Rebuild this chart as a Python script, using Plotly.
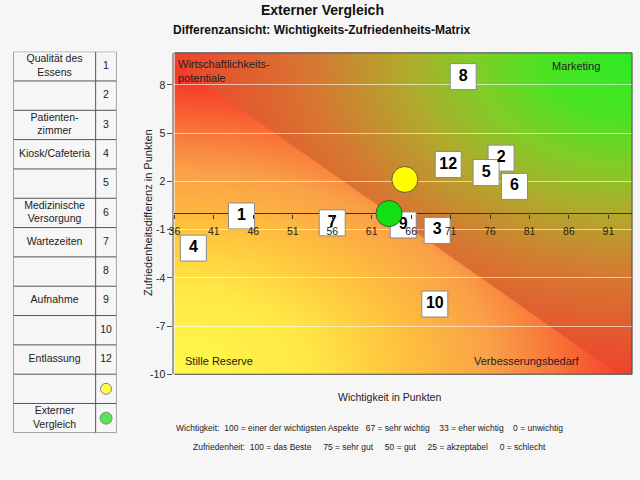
import base64
import struct
import zlib

import numpy as np
import plotly.graph_objects as go

# ---------------- data ----------------
item_ids = ["1", "2", "3", "4", "5", "6", "7", "8", "9", "10", "12"]
wichtigkeit = [44.5, 77.4, 69.3, 38.4, 75.5, 79.1, 56.0, 72.6, 65.0, 69.0, 70.7]
zufriedenheit_diff = [-0.15, 3.45, -1.05, -2.15, 2.55, 1.69, -0.58, 8.52, -0.71, -5.63, 3.05]

eigen_wichtigkeit = [65.2]
eigen_diff = [2.12]
extern_wichtigkeit = [63.2]
extern_diff = [0.0]

table_labels = ["Qualität des<br>Essens", "", "Patienten-<br>zimmer", "Kiosk/Cafeteria", "",
                "Medizinische<br>Versorgung", "Wartezeiten", "", "Aufnahme", "", "Entlassung",
                "", "Externer<br>Vergleich"]
table_numbers = ["1", "2", "3", "4", "5", "6", "7", "8", "9", "10", "12", "", ""]

x_range = [36, 94]
y_range = [-10, 10]
x_ticks = [36, 41, 46, 51, 56, 61, 66, 71, 76, 81, 86, 91]
y_ticks = [-10, -7, -4, -1, 2, 5, 8]
y_tick_text = ["-10", "-7", "-4", "-1", "2", "5", "8"]

FONT = "Liberation Sans, Arial, sans-serif"
FIG_W, FIG_H = 640, 480


def fx(p):
    return p / FIG_W


def fy(p):
    return 1 - p / FIG_H


PL, PR, PT, PB = 170, 632, 53.5, 379

# ---------------- background gradient image ----------------
W, H = int(PR - PL), int(PB - PT)
u = (np.arange(W) + 0.5) / W
v = 1 - (np.arange(H) + 0.5) / H
U, V = np.meshgrid(u, v)


def ramp(t, stops):
    ts = [s[0] for s in stops]
    out = np.zeros(t.shape + (3,))
    for c in range(3):
        out[..., c] = np.interp(t, ts, [s[1][c] for s in stops])
    return out


lower_stops = [(0, (255, 250, 75)), (0.3, (255, 232, 70)), (0.5, (255, 195, 62)),
               (0.7, (250, 160, 72)), (0.85, (248, 112, 55)), (1.0, (245, 60, 42)),
               (1.6, (240, 50, 40))]
upper_stops = [(0, (45, 235, 35)), (0.2, (75, 228, 35)), (0.35, (130, 205, 40)),
               (0.5, (178, 170, 45)), (0.7, (215, 120, 50)), (1.0, (238, 68, 45)),
               (1.6, (238, 60, 45))]
t_low = np.sqrt(U ** 2 + (1.1 * V) ** 2)
s_up = np.sqrt((1 - U) ** 2 + (1 - V) ** 2)
lower = ramp(t_low, lower_stops)
upper = ramp(s_up, upper_stops)
alpha = np.clip((U + V - 0.97) * H * 0.7 + 0.5, 0, 1)[..., None]
img = (upper * alpha + lower * (1 - alpha)).clip(0, 255).astype(np.uint8)


def png_uri(arr):
    h, w, _ = arr.shape
    raw = b"".join(b"\x00" + arr[r].tobytes() for r in range(h))

    def chunk(tag, data):
        c = struct.pack(">I", len(data)) + tag + data
        return c + struct.pack(">I", zlib.crc32(tag + data) & 0xFFFFFFFF)

    png = b"\x89PNG\r\n\x1a\n"
    png += chunk(b"IHDR", struct.pack(">IIBBBBB", w, h, 8, 2, 0, 0, 0))
    png += chunk(b"IDAT", zlib.compress(raw, 9))
    png += chunk(b"IEND", b"")
    return "data:image/png;base64," + base64.b64encode(png).decode()


bg_uri = png_uri(img)

# ---------------- figure ----------------
fig = go.Figure()

fig.add_trace(go.Scatter(
    x=wichtigkeit, y=zufriedenheit_diff, mode="markers+text", text=item_ids,
    textposition="middle center",
    textfont=dict(family=FONT, size=16, color="#000000", weight="bold"),
    marker=dict(symbol="square", size=26, color="white", line=dict(color="#8a8a8a", width=1)),
    hoverinfo="skip", cliponaxis=False,
))
fig.add_trace(go.Scatter(
    x=eigen_wichtigkeit, y=eigen_diff, mode="markers",
    marker=dict(symbol="circle", size=26, color="#ffff00", line=dict(color="#5a5a5a", width=1)),
    hoverinfo="skip",
))
fig.add_trace(go.Scatter(
    x=extern_wichtigkeit, y=extern_diff, mode="markers",
    marker=dict(symbol="circle", size=26, color="#12e012", line=dict(color="#3a5a3a", width=1)),
    hoverinfo="skip",
))

# table (own hidden axes)
n_rows = len(table_labels)
col_split = (90.5 - 7.5) / 104
fig.add_trace(go.Scatter(
    x=[col_split / 2] * n_rows, y=[i + 0.5 for i in range(n_rows)], mode="text",
    text=table_labels, textfont=dict(family=FONT, size=10.5, color="#222222"),
    xaxis="x3", yaxis="y3", hoverinfo="skip",
))
fig.add_trace(go.Scatter(
    x=[(1 + col_split) / 2] * n_rows, y=[i + 0.5 for i in range(n_rows)], mode="text",
    text=table_numbers, textfont=dict(family=FONT, size=10.5, color="#222222"),
    xaxis="x3", yaxis="y3", hoverinfo="skip",
))
fig.add_trace(go.Scatter(
    x=[(1 + col_split) / 2] * 2, y=[n_rows - 1.5, n_rows - 0.5], mode="markers",
    marker=dict(size=[11, 12], color=["#ffff00", "#12e012"], line=dict(color="#555555", width=1)),
    xaxis="x3", yaxis="y3", hoverinfo="skip",
))

shapes = []
for i in range(n_rows + 1):
    shapes.append(dict(type="line", xref="x3", yref="y3", x0=0, x1=1, y0=i, y1=i,
                       line=dict(color="#555555", width=1)))
for xv in [0, col_split, 1]:
    shapes.append(dict(type="line", xref="x3", yref="y3", x0=xv, x1=xv, y0=0, y1=n_rows,
                       line=dict(color="#555555", width=1)))
# plot border (top, right, bottom)
shapes += [
    dict(type="line", xref="x domain", yref="y domain", x0=0, x1=1, y0=1, y1=1,
         line=dict(color="#444444", width=1), layer="above"),
    dict(type="line", xref="x domain", yref="y domain", x0=1, x1=1, y0=0, y1=1,
         line=dict(color="#444444", width=1), layer="above"),
    dict(type="line", xref="x domain", yref="y domain", x0=0, x1=1, y0=0, y1=0,
         line=dict(color="#444444", width=1), layer="above"),
]

y_dom = [fy(PB), fy(PT)]
x_axis_pos = y_dom[0] + (0 - y_range[0]) / (y_range[1] - y_range[0]) * (y_dom[1] - y_dom[0])

nb = "\u00a0"
foot1 = ("Wichtigkeit:" + nb * 2 + "100 = einer der wichtigsten Aspekte" + nb * 3 + "67 = sehr wichtig"
         + nb * 4 + "33 = eher wichtig" + nb * 4 + "0 = unwichtig")
foot2 = ("Zufriedenheit:" + nb * 2 + "100 = das Beste" + nb * 5 + "75 = sehr gut" + nb * 5 + "50 = gut"
         + nb * 5 + "25 = akzeptabel" + nb * 5 + "0 = schlecht")

annotations = [
    dict(text="<b>Externer Vergleich</b>", x=fx(319), y=fy(10.5), xref="paper", yref="paper",
         showarrow=False, font=dict(family=FONT, size=14, color="#111111"), yanchor="middle"),
    dict(text="<b>Differenzansicht: Wichtigkeits-Zufriedenheits-Matrix</b>", x=fx(319), y=fy(30.5),
         xref="paper", yref="paper", showarrow=False,
         font=dict(family=FONT, size=12, color="#111111"), yanchor="middle"),
    dict(text="Wirtschaftlichkeits-<br>potentiale", x=fx(172), y=fy(57), xref="paper", yref="paper",
         xanchor="left", yanchor="top", align="left", showarrow=False,
         font=dict(family=FONT, size=11, color="#222222")),
    dict(text="Marketing", x=fx(602), y=fy(67), xref="paper", yref="paper", xanchor="right",
         yanchor="middle", showarrow=False, font=dict(family=FONT, size=11, color="#222222")),
    dict(text="Stille Reserve", x=fx(179), y=fy(366), xref="paper", yref="paper", xanchor="left",
         yanchor="middle", showarrow=False, font=dict(family=FONT, size=11, color="#222222")),
    dict(text="Verbesserungsbedarf", x=fx(581), y=fy(366), xref="paper", yref="paper", xanchor="right",
         yanchor="middle", showarrow=False, font=dict(family=FONT, size=11, color="#222222")),
    dict(text="Zufriedenheitsdifferenz in Punkten", x=fx(136), y=fy(215), xref="paper", yref="paper",
         textangle=-90, showarrow=False, font=dict(family=FONT, size=11, color="#222222")),
    dict(text="Wichtigkeit in Punkten", x=fx(387), y=fy(402), xref="paper", yref="paper",
         yanchor="middle", showarrow=False, font=dict(family=FONT, size=10.5, color="#222222")),
    dict(text=foot1, x=fx(367), y=fy(433), xref="paper", yref="paper", showarrow=False,
         yanchor="middle", font=dict(family=FONT, size=8.5, color="#222222")),
    dict(text=foot2, x=fx(367), y=fy(453), xref="paper", yref="paper", showarrow=False,
         yanchor="middle", font=dict(family=FONT, size=8.5, color="#222222")),
]

fig.update_layout(
    width=FIG_W, height=FIG_H, margin=dict(l=0, r=0, t=0, b=0),
    paper_bgcolor="#f6f6f6", plot_bgcolor="#f6f6f6", showlegend=False,
    font=dict(family=FONT, size=11, color="#222222"),
    xaxis=dict(domain=[fx(PL), fx(PR)], range=x_range, anchor="free", position=x_axis_pos,
               tickmode="array", tickvals=x_ticks, ticks="outside", ticklen=4, tickcolor="#333333",
               showgrid=False, zeroline=False, showline=False, ticklabelstandoff=4,
               tickfont=dict(family=FONT, size=10.5, color="#222222"), fixedrange=True),
    yaxis=dict(domain=y_dom, range=y_range, anchor="x", tickmode="array", tickvals=y_ticks,
               ticktext=y_tick_text,
               ticks="outside", ticklen=5, tickcolor="#555555", showline=True, linecolor="#a0a0a0",
               linewidth=2, showgrid=True, gridcolor="rgba(255,255,255,0.6)", gridwidth=1,
               zeroline=True, zerolinecolor="#333333", zerolinewidth=1,
               tickfont=dict(family=FONT, size=10.5, color="#222222"), fixedrange=True),
    xaxis3=dict(domain=[fx(7.5), fx(111.5)], range=[0, 1], visible=False, anchor="y3", fixedrange=True),
    yaxis3=dict(domain=[fy(438.3), fy(52.3)], range=[n_rows, 0], visible=False, anchor="x3",
                fixedrange=True),
    images=[dict(source=bg_uri, xref="x", yref="y", x=x_range[0], y=y_range[1],
                 sizex=x_range[1] - x_range[0], sizey=y_range[1] - y_range[0],
                 sizing="stretch", xanchor="left", yanchor="top", layer="below")],
    shapes=shapes,
    annotations=annotations,
)

fig.write_html("out.html")
